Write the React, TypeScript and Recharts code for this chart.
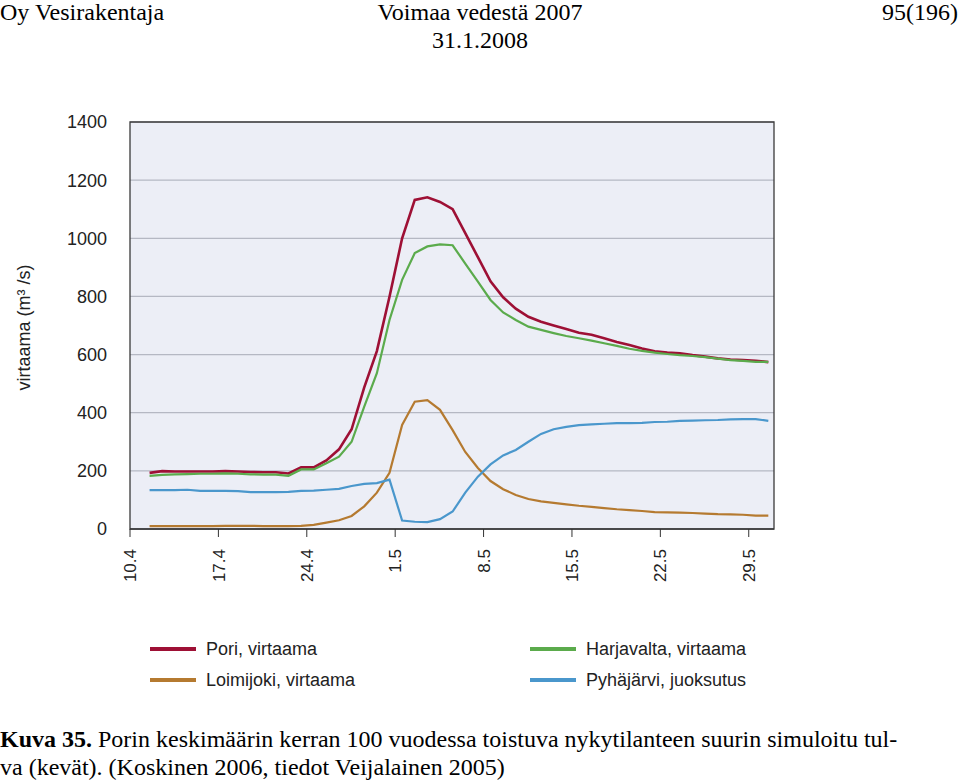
import React from 'react';
import {
  LineChart,
  Line,
  XAxis,
  YAxis,
  CartesianGrid,
  ReferenceArea,
} from 'recharts';

// daily values, 11.4 – 30.5 (m3/s)
const dates: string[] = [
  '11.4', '12.4', '13.4', '14.4', '15.4', '16.4', '17.4', '18.4', '19.4', '20.4',
  '21.4', '22.4', '23.4', '24.4', '25.4', '26.4', '27.4', '28.4', '29.4', '30.4',
  '1.5', '2.5', '3.5', '4.5', '5.5', '6.5', '7.5', '8.5', '9.5', '10.5',
  '11.5', '12.5', '13.5', '14.5', '15.5', '16.5', '17.5', '18.5', '19.5', '20.5',
  '21.5', '22.5', '23.5', '24.5', '25.5', '26.5', '27.5', '28.5', '29.5', '30.5',
];

const pori: number[] = [
  193, 199, 198, 198, 198, 198, 199, 198, 196, 195,
  195, 191, 212, 212, 236, 274, 343, 487, 612, 799,
  1000, 1132, 1141, 1125, 1100, 1018, 935, 852, 797, 758,
  730, 713, 700, 688, 675, 668, 656, 643, 633, 621,
  611, 607, 604, 598, 593, 587, 583, 581, 579, 574,
];

const harjavalta: number[] = [
  183, 186, 188, 189, 190, 190, 191, 190, 188, 187,
  187, 183, 205, 205, 226, 249, 300, 421, 536, 719,
  857, 949, 972, 979, 976, 913, 851, 788, 745, 719,
  696, 685, 674, 664, 656, 648, 639, 630, 620, 613,
  607, 602, 598, 595, 591, 586, 581, 578, 575, 575,
];

const loimijoki: number[] = [
  10, 10, 10, 10, 10, 10, 11, 11, 11, 10,
  10, 10, 11, 14, 22, 30, 45, 78, 125, 193,
  358, 438, 443, 410, 340, 265, 210, 165, 137, 117,
  103, 95, 90, 85, 80, 76, 72, 68, 65, 62,
  58, 57, 56, 55, 53, 51, 50, 49, 46, 46,
];

const pyhajarvi: number[] = [
  134, 134, 134, 135, 131, 131, 131, 130, 127, 127,
  127, 128, 131, 132, 135, 138, 148, 155, 158, 170,
  29, 25, 24, 34, 60, 125, 180, 222, 253, 272,
  300, 327, 343, 351, 357, 360, 362, 364, 364, 365,
  368, 369, 372, 373, 374, 375, 377, 378, 378, 372,
];

const tickDays = [0, 7, 14, 21, 28, 35, 42, 49];
const tickLabels = ['10.4', '17.4', '24.4', '1.5', '8.5', '15.5', '22.5', '29.5'];
const yTicks = [0, 200, 400, 600, 800, 1000, 1200, 1400];

const series = [
  { key: 'pori', name: 'Pori, virtaama', color: '#9e1035', width: 2.6 },
  { key: 'harjavalta', name: 'Harjavalta, virtaama', color: '#5bab4c', width: 2.2 },
  { key: 'loimijoki', name: 'Loimijoki, virtaama', color: '#b57a30', width: 2.2 },
  { key: 'pyhajarvi', name: 'Pyhäjärvi, juoksutus', color: '#4a97cc', width: 2.2 },
];

// day 0 = 10.4, daily means plotted around midday
const data = dates.map((d, i) => ({
  date: d,
  t: i + 1.55,
  pori: pori[i],
  harjavalta: harjavalta[i],
  loimijoki: loimijoki[i],
  pyhajarvi: pyhajarvi[i],
}));

const sans = '"Liberation Sans", Arial, sans-serif';
const serif = '"Liberation Serif", "Times New Roman", serif';

const XTick = (props: any) => {
  const { x, y, payload } = props;
  const idx = tickDays.indexOf(payload.value);
  return (
    <text
      x={x}
      y={y}
      transform={`rotate(-90, ${x}, ${y})`}
      textAnchor="end"
      dy="0.36em"
      fontSize={17}
      fontFamily={sans}
      fill="#222"
    >
      {tickLabels[idx]}
    </text>
  );
};

const YLabel = (props: any) => {
  const { viewBox } = props;
  const cx = viewBox.x + 24;
  const cy = viewBox.y + viewBox.height / 2 + 2;
  return (
    <text
      x={cx}
      y={cy}
      transform={`rotate(-90, ${cx}, ${cy})`}
      textAnchor="middle"
      dy="0.36em"
      fontSize={18}
      fontFamily={sans}
      fill="#222"
    >
      virtaama (m³ /s)
    </text>
  );
};

const legendRows = [
  [series[0], series[1]],
  [series[2], series[3]],
];

const App = () => {
  return (
    <div
      style={{
        position: 'absolute',
        left: 0,
        top: 0,
        width: 960,
        height: 780,
        background: '#fff',
        overflow: 'hidden',
      }}
    >
      {/* page header */}
      <div style={{ position: 'absolute', left: 0, top: -2, fontFamily: serif, fontSize: 24, color: '#000', lineHeight: '28px' }}>
        Oy Vesirakentaja
      </div>
      <div style={{ position: 'absolute', left: 330, width: 300, top: -2, textAlign: 'center', fontFamily: serif, fontSize: 24, color: '#000', lineHeight: '28px' }}>
        Voimaa vedestä 2007
        <br />
        31.1.2008
      </div>
      <div style={{ position: 'absolute', right: 2, top: -2, fontFamily: serif, fontSize: 24, color: '#000', lineHeight: '28px' }}>
        95(196)
      </div>

      <LineChart
        width={960}
        height={780}
        data={data}
        margin={{ top: 122, right: 186, left: 0, bottom: 191 }}
        style={{ position: 'absolute', left: 0, top: 0 }}
      >
        <CartesianGrid vertical={false} stroke="#b5b8c3" strokeWidth={1.2} fill="#eceef6" />
        <XAxis
          dataKey="t"
          type="number"
          domain={[0, 51]}
          ticks={tickDays}
          interval={0}
          height={60}
          tickSize={8}
          tickMargin={12}
          axisLine={{ stroke: '#333' }}
          tickLine={{ stroke: '#333' }}
          tick={<XTick />}
          allowDataOverflow
        />
        <YAxis
          type="number"
          domain={[0, 1400]}
          ticks={yTicks}
          interval={0}
          width={130}
          tickSize={0}
          tickMargin={23}
          axisLine={false}
          tickLine={false}
          tick={{ fontSize: 18, fontFamily: sans, fill: '#222' }}
          label={<YLabel />}
        />
        <ReferenceArea
          x1={0}
          x2={51}
          y1={0}
          y2={1400}
          fill="none"
          stroke="#3a3a3a"
          strokeWidth={1.3}
          ifOverflow="visible"
        />
        {series.map((s) => (
          <Line
            key={s.key}
            dataKey={s.key}
            name={s.name}
            stroke={s.color}
            strokeWidth={s.width}
            dot={false}
            activeDot={false}
            isAnimationActive={false}
            type="linear"
          />
        ))}
      </LineChart>

      {/* legend */}
      {legendRows.map((row, r) =>
        row.map((s, c) => (
          <div
            key={s.key}
            style={{
              position: 'absolute',
              left: c === 0 ? 150 : 530,
              top: 639 + r * 31,
              height: 20,
              display: 'flex',
              alignItems: 'center',
              fontFamily: sans,
              fontSize: 18,
              color: '#222',
            }}
          >
            <span style={{ display: 'inline-block', width: 46, height: 4, background: s.color, marginRight: 10 }} />
            {s.name}
          </div>
        ))
      )}

      {/* caption */}
      <div style={{ position: 'absolute', left: 0, top: 725, fontFamily: serif, fontSize: 24, color: '#000', lineHeight: '28px', whiteSpace: 'nowrap' }}>
        <b>Kuva 35.</b> Porin keskimäärin kerran 100 vuodessa toistuva nykytilanteen suurin simuloitu tul-
        <br />
        va (kevät). (Koskinen 2006, tiedot Veijalainen 2005)
      </div>
    </div>
  );
};

export default App;
